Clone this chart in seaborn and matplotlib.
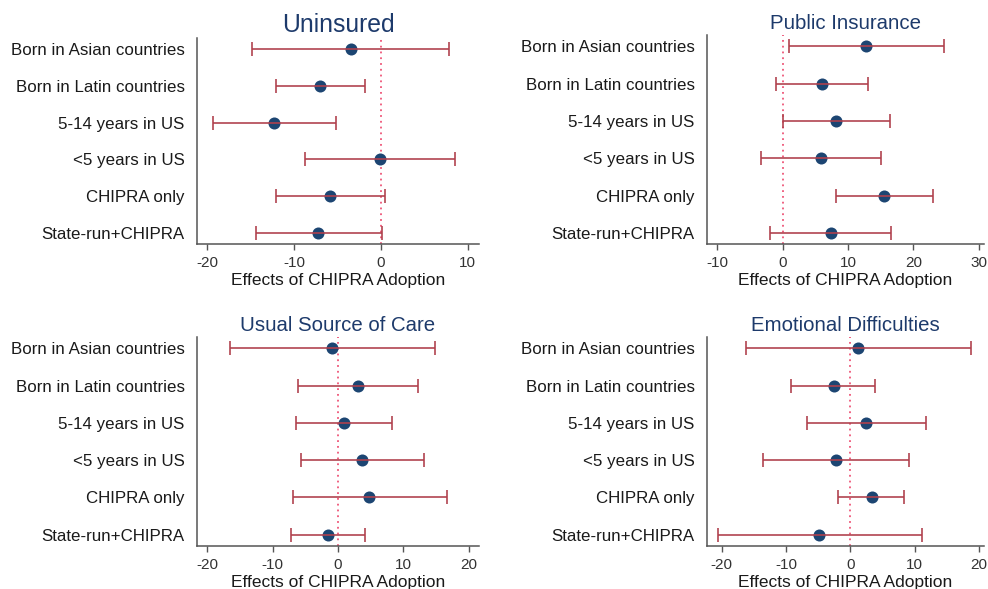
import numpy as np
import pandas as pd
import matplotlib
matplotlib.use("Agg")
import matplotlib.pyplot as plt
import seaborn as sns

sns.set_style("white")
plt.rcParams['font.family'] = ['Liberation Sans', 'DejaVu Sans']

groups = ["Born in Asian countries", "Born in Latin countries", "5-14 years in US",
          "<5 years in US", "CHIPRA only", "State-run+CHIPRA"]

# point estimates and confidence bounds
uninsured_est = [-3.5, -7.0, -12.3, -0.15, -5.9, -7.2]
uninsured_lo = [-14.9, -12.1, -19.3, -8.8, -12.1, -14.4]
uninsured_hi = [7.9, -1.8, -5.2, 8.5, 0.5, 0.1]

public_est = [12.8, 6.0, 8.2, 5.8, 15.5, 7.3]
public_lo = [1.0, -1.1, 0.0, -3.4, 8.1, -1.9]
public_hi = [24.6, 13.0, 16.4, 15.0, 23.0, 16.6]

usual_est = [-0.9, 3.1, 0.9, 3.7, 4.8, -1.5]
usual_lo = [-16.6, -6.2, -6.4, -5.7, -6.9, -7.2]
usual_hi = [14.8, 12.3, 8.2, 13.2, 16.7, 4.2]

emotional_est = [1.2, -2.6, 2.5, -2.2, 3.3, -4.8]
emotional_lo = [-16.3, -9.2, -6.7, -13.6, -1.9, -20.6]
emotional_hi = [18.7, 3.9, 11.7, 9.2, 8.4, 11.2]

panels = [
    ("Uninsured", uninsured_est, uninsured_lo, uninsured_hi, [-20, -10, 0, 10], (-21.2, 11.3), 17.8),
    ("Public Insurance", public_est, public_lo, public_hi, [-10, 0, 10, 20, 30], (-11.6, 30.8), 14.7),
    ("Usual Source of Care", usual_est, usual_lo, usual_hi, [-20, -10, 0, 10, 20], (-21.6, 21.6), 14.7),
    ("Emotional Difficulties", emotional_est, emotional_lo, emotional_hi, [-20, -10, 0, 10, 20], (-22.3, 20.8), 14.7),
]

positions = [
    [0.1994, 0.5857, 0.2854, 0.3497],
    [0.7156, 0.5857, 0.2804, 0.3548],
    [0.1994, 0.0730, 0.2854, 0.3548],
    [0.7156, 0.0730, 0.2804, 0.3548],
]

navy = "#1c4572"
bar_red = "#b0404c"
title_col = "#1d3a6b"

fig = plt.figure(figsize=(9.88, 5.89), dpi=100)

for (title, est, lo, hi, ticks, xlim, tsize), pos in zip(panels, positions):
    ax = fig.add_axes(pos)
    df = pd.DataFrame({"group": groups, "est": est, "lo": lo, "hi": hi})
    df["y"] = np.arange(len(groups))
    ax.axvline(0, color="#ee5577", linestyle=(0, (1, 2.2)), linewidth=1.3, zorder=1)
    sns.scatterplot(data=df, x="est", y="y", ax=ax, color=navy, s=75,
                    edgecolor=navy, linewidth=0, zorder=3)
    ax.errorbar(df["est"], df["y"], xerr=[df["est"] - df["lo"], df["hi"] - df["est"]],
                fmt="none", ecolor=bar_red, elinewidth=1.3, capsize=5, capthick=1.3, zorder=4,
                alpha=0.9)
    ax.set_ylim(len(groups) - 0.7, -0.3)
    ax.set_yticks(df["y"])
    ax.set_yticklabels(groups)
    ax.set_xlim(*xlim)
    ax.set_xticks(ticks)
    ax.set_xticklabels([str(t) for t in ticks])
    ax.set_xlabel("Effects of CHIPRA Adoption", fontsize=12.5, color="#1a1a1a", labelpad=2)
    ax.set_ylabel("")
    ax.set_title(title, fontsize=tsize, color=title_col, pad=4)
    sns.despine(ax=ax)
    for side in ["left", "bottom"]:
        ax.spines[side].set_color("#555555")
        ax.spines[side].set_linewidth(1.1)
    ax.tick_params(axis="y", length=0, pad=9, labelsize=12.2, labelcolor="#1a1a1a")
    ax.tick_params(axis="x", length=4, width=1, color="#555555", pad=4.5,
                   labelsize=11, labelcolor="#333333", bottom=True)

fig.savefig("out.png", dpi=100)
